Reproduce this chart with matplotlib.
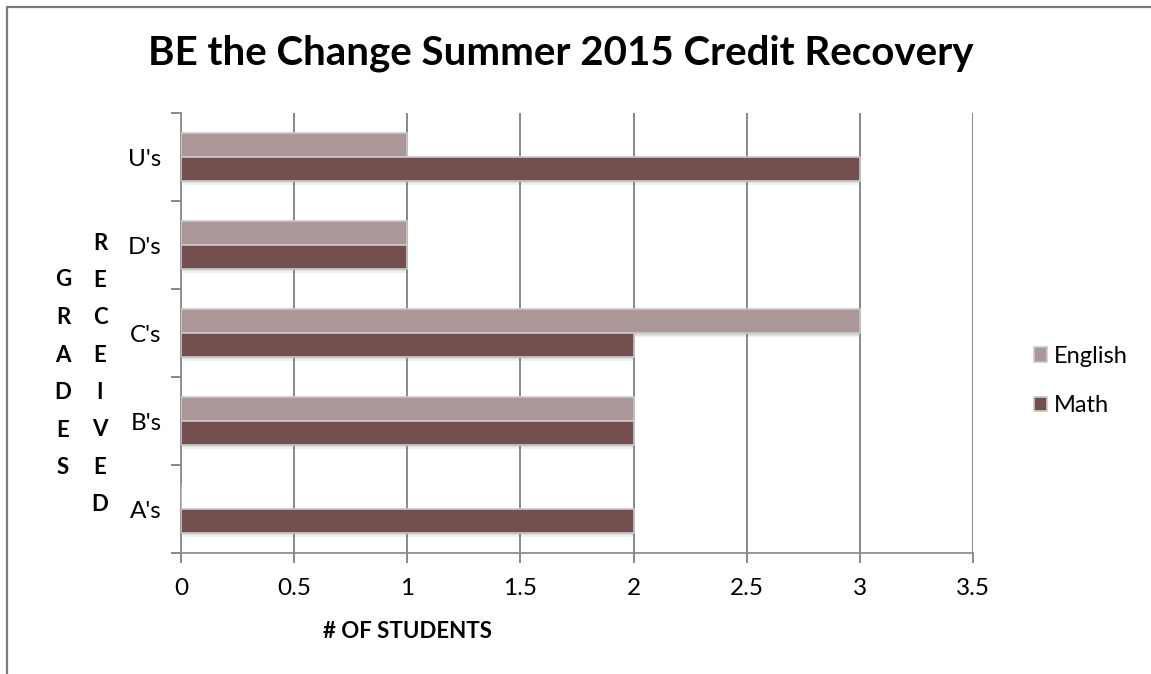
import matplotlib.pyplot as plt
import numpy as np
from matplotlib.lines import Line2D

grades = ["A's", "B's", "C's", "D's", "U's"]
english = [0, 2, 3, 1, 1]
math = [2, 2, 2, 1, 3]
xTicks = [0, 0.5, 1, 1.5, 2, 2.5, 3, 3.5]

ENGLISH_COLOR = '#ab9797'
MATH_COLOR = '#754f50'
FONT = 'Lato'
W, H = 1151, 674

plt.rcParams['font.family'] = [FONT, 'DejaVu Sans']

fig = plt.figure(figsize=(W / 100, H / 100), dpi=100)
# chart frame: only top and left edges are visible in the crop
fig.add_artist(Line2D([6.5 / W, 6.5 / W, 1], [0, 1 - 6.5 / H, 1 - 6.5 / H],
                      transform=fig.transFigure, color='#7a7a7a', linewidth=1.6))

ax = fig.add_axes([181 / W, 121 / H, 792 / W, 440 / H])

y = np.arange(len(grades))
h = 0.27
# soft shadow under each bar
for off, a in [(0.045, 0.10), (0.03, 0.15), (0.015, 0.2)]:
    ax.barh(y + h / 2 - off, english, height=h, color='#7a7a7a', alpha=a, zorder=2, linewidth=0)
    ax.barh(y - h / 2 - off, math, height=h, color='#7a7a7a', alpha=a, zorder=2, linewidth=0)
ax.barh(y + h / 2, english, height=h, color=ENGLISH_COLOR, edgecolor='#c9c9c9',
        linewidth=1.2, zorder=3, label='English')
ax.barh(y - h / 2, math, height=h, color=MATH_COLOR, edgecolor='#c9c9c9',
        linewidth=1.2, zorder=3, label='Math')

ax.set_xlim(0, 3.5)
ax.set_ylim(-0.5, len(grades) - 0.5)
ax.set_xticks(xTicks)
ax.set_xticklabels(['0', '0.5', '1', '1.5', '2', '2.5', '3', '3.5'], fontsize=17.5)
ax.set_yticks(np.arange(-0.5, len(grades), 1))
ax.set_yticklabels([])
ax.set_yticks(y, minor=True)
ax.set_yticklabels(grades, minor=True, fontsize=17.5)
ax.tick_params(axis='y', which='minor', length=0, pad=14)
ax.tick_params(axis='y', which='major', length=7, color='#808080', width=1.3)
ax.tick_params(axis='x', length=7, color='#808080', width=1.3, pad=11)
ax.grid(axis='x', color='#7f7f7f', linewidth=1.3, zorder=1)
ax.set_axisbelow(True)
for side in ['top', 'right']:
    ax.spines[side].set_visible(False)
for side in ['left', 'bottom']:
    ax.spines[side].set_color('#8c8c8c')
    ax.spines[side].set_linewidth(1.3)

fig.text(561 / W, 1 - 53 / H, 'BE the Change Summer 2015 Credit Recovery',
         ha='center', va='center', fontsize=29, fontweight='bold')
fig.text(407 / W, 1 - 632 / H, '# OF STUDENTS', ha='center', va='center',
         fontsize=16, fontweight='bold')

# stacked axis title letters
for i, ch in enumerate('GRADES'):
    fig.text(63 / W, 1 - (280 + i * 37.6) / H, ch, ha='center', va='center',
             fontsize=16, fontweight='bold')
for i, ch in enumerate('RECEIVED'):
    fig.text(100 / W, 1 - (243 + i * 37.4) / H, ch, ha='center', va='center',
             fontsize=16, fontweight='bold')

handles, labels = ax.get_legend_handles_labels()
fig.legend(handles, labels, loc='center left', bbox_to_anchor=(1013 / W, 1 - 381 / H),
           frameon=False, fontsize=17, handlelength=0.55, handleheight=0.55,
           handletextpad=0.3, labelspacing=1.2)

fig.savefig('out.png', dpi=100)
